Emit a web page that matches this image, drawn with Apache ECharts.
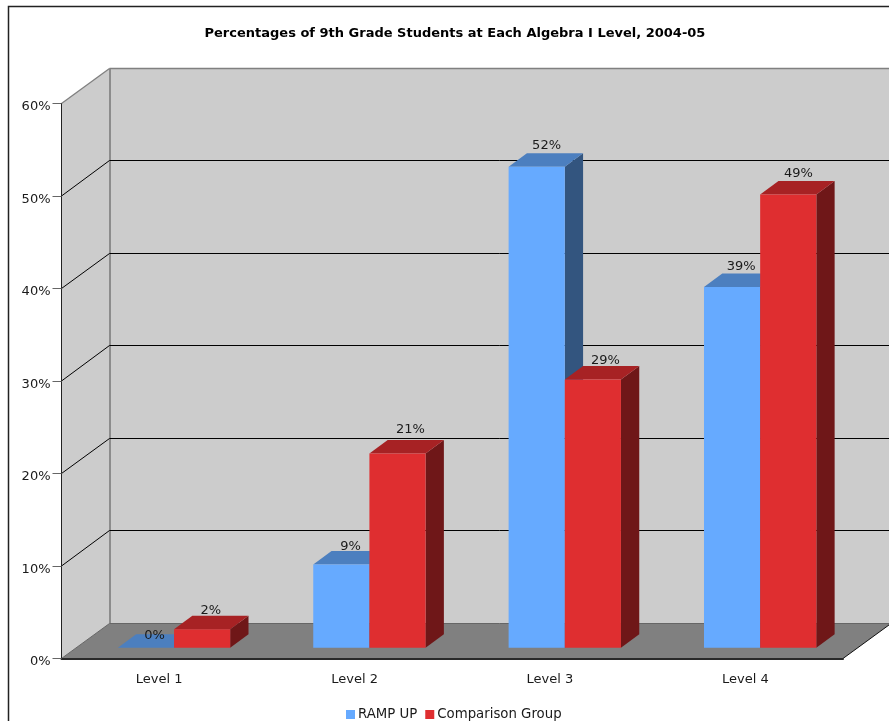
<!DOCTYPE html>
<html>
<head>
<meta charset="utf-8">
<style>
  html, body { margin: 0; padding: 0; background: #fff; }
  #chart { width: 889px; height: 721px; }
</style>
<script src="https://cdn.jsdelivr.net/npm/echarts@6/dist/echarts.min.js"></script>
</head>
<body>
<div id="chart"></div>
<script>
// Chart values
const categories = ['Level 1', 'Level 2', 'Level 3', 'Level 4'];
const rampUp = [0, 9, 52, 39];
const comparisonGroup = [2, 21, 29, 49];
const tickValues = [0, 10, 20, 30, 40, 50, 60];

// Caption placement per bar: [shift right, gap above the bar's back edge]
const rampUpCaptionPlacement = [[-0.5, -1], [0, 4.5], [0.7, 8], [0, 7]];
const comparisonCaptionPlacement = [[-0.5, 5.5], [3.7, 10], [3.3, 5], [1, 7]];

// Pseudo-3D projection: how far the back wall and each bar extrude up and to the right
const WALL_DX = 48, WALL_DY = 35;
const BAR_DX = 18.3, BAR_DY = 13.6;
const BAR_SHIFT_X = (WALL_DX - BAR_DX) / 2;
const BAR_SHIFT_Y = (WALL_DY - BAR_DY) / 2;
const BAR_FRACTION = 0.2875;
const FONT = '"DejaVu Sans", Verdana, sans-serif';
const TEXT = '#1a1a1a';

const poly = (points, fill, z2) => ({
  type: 'polygon', shape: { points }, style: { fill }, z2: z2 || 0
});
const seg = (x1, y1, x2, y2, stroke, lineWidth, z2) => ({
  type: 'line', shape: { x1, y1, x2, y2 },
  style: { stroke, lineWidth: lineWidth || 1 }, z2: z2 || 0
});
// Keeps thin horizontal rules on a single pixel row
const crisp = y => Math.ceil(y) - 0.5;

// Side wall, back wall, floor and the gridlines running across them
function renderRoom(params, api) {
  const cs = params.coordSys;
  const value = api.value(0);
  const y = api.coord([0, value])[1];
  const left = cs.x, right = cs.x + cs.width;
  const backLeft = left + WALL_DX, backRight = right + WALL_DX;
  const children = [];
  if (params.dataIndex === 0) {
    const top = cs.y, bottom = cs.y + cs.height;
    children.push(
      poly([[left, top], [backLeft, top - WALL_DY], [backRight, top - WALL_DY],
            [backRight, bottom - WALL_DY], [backLeft, bottom - WALL_DY], [left, bottom]], '#cccccc', 0),
      poly([[left, bottom], [backLeft, bottom - WALL_DY], [backRight, bottom - WALL_DY], [right, bottom]], '#808080', 1),
      seg(backLeft + 0.5, top - WALL_DY, backLeft + 0.5, bottom - WALL_DY, '#8c8c8c', 2, 2),
      seg(right, bottom, backRight, bottom - WALL_DY, '#111', 1, 3)
    );
  }
  const isFloor = value === tickValues[0];
  const isTop = value === tickValues[tickValues.length - 1];
  const color = isFloor ? '#666' : isTop ? '#808080' : '#000';
  const backY = crisp(y - WALL_DY);
  children.push(
    seg(left, y, backLeft, backY, color, isTop ? 1.3 : 1, 3),
    seg(backLeft, backY, backRight, backY, color, isTop ? 1.3 : 1, 3)
  );
  return { type: 'group', children };
}

// One extruded bar: front face, lighter top and shaded side
function makeBarRenderer(slot, front, topFace, sideFace) {
  return function (params, api) {
    const base = api.coord([api.value(0), 0]);
    const head = api.coord([api.value(0), api.value(1)]);
    const w = api.size([1, 0])[0] * BAR_FRACTION;
    const x0 = base[0] + BAR_SHIFT_X + slot * w;
    const x1 = x0 + w;
    const yb = base[1] - BAR_SHIFT_Y;
    const yt = head[1] - BAR_SHIFT_Y;
    return {
      type: 'group',
      children: [
        poly([[x1, yt], [x1 + BAR_DX, yt - BAR_DY], [x1 + BAR_DX, yb - BAR_DY], [x1, yb]], sideFace, 1),
        poly([[x0, yt], [x0 + BAR_DX, yt - BAR_DY], [x1 + BAR_DX, yt - BAR_DY], [x1, yt]], topFace, 2),
        poly([[x0, yt], [x1, yt], [x1, yb], [x0, yb]], front, 3)
      ]
    };
  };
}

// Value captions sit above the back edge of each bar's top face
function makeLabelRenderer(slot, placement) {
  return function (params, api) {
    const base = api.coord([api.value(0), 0]);
    const head = api.coord([api.value(0), api.value(1)]);
    const w = api.size([1, 0])[0] * BAR_FRACTION;
    const place = placement[params.dataIndex];
    const cx = base[0] + BAR_SHIFT_X + slot * w + w / 2 + BAR_DX / 2 + place[0];
    const backTop = head[1] - BAR_SHIFT_Y - BAR_DY;
    return {
      type: 'text',
      style: {
        x: cx, y: backTop - place[1],
        text: api.value(1) + '%', fill: TEXT, font: '13px ' + FONT,
        align: 'center', verticalAlign: 'middle'
      },
      z2: 50
    };
  };
}

const pairs = values => values.map((v, i) => [i, v]);

const option = {
  animation: false,
  backgroundColor: '#fff',
  title: {
    text: 'Percentages of 9th Grade Students at Each Algebra I Level, 2004-05',
    left: 204.5, top: 27, padding: 0,
    textStyle: { fontFamily: FONT, fontSize: 13, fontWeight: 'bold', color: '#000' }
  },
  graphic: [{
    type: 'rect', silent: true, z: -1,
    shape: { x: 8.5, y: 6.5, width: 1000, height: 1000 },
    style: { fill: 'none', stroke: '#222', lineWidth: 1.5 }
  }],
  legend: {
    data: ['RAMP UP', 'Comparison Group'],
    left: 346, top: 708, itemWidth: 9, itemHeight: 9, itemGap: 8, padding: 0,
    icon: 'rect', selectedMode: false,
    textStyle: { fontFamily: FONT, fontSize: 13.3, color: TEXT, padding: [0, 0, 0, -2] }
  },
  grid: { left: 61.5, right: 46, top: 103.5, bottom: 62.5, containLabel: false },
  xAxis: {
    type: 'category', data: categories,
    axisLine: { lineStyle: { color: '#2a2a2a', width: 2 } },
    axisTick: { length: 9, lineStyle: { color: '#111', width: 1 } },
    axisLabel: { margin: 15, fontFamily: FONT, fontSize: 13, color: TEXT },
    splitLine: { show: false }, z: 10
  },
  yAxis: {
    type: 'value', min: 0, max: 60, interval: 10,
    axisLine: { show: true, lineStyle: { color: '#222', width: 1 } },
    axisTick: { show: true, length: 9, lineStyle: { color: '#666', width: 1 } },
    axisLabel: {
      margin: 11, fontFamily: FONT, fontSize: 13, color: TEXT,
      formatter: '{value}%', verticalAlign: 'top', lineHeight: 7
    },
    splitLine: { show: false }, z: 10
  },
  series: [
    {
      type: 'custom', name: 'room', silent: true, z: 1, clip: false,
      renderItem: renderRoom, encode: { y: 0 },
      data: tickValues.map(v => [v])
    },
    {
      type: 'custom', name: 'RAMP UP', z: 2, clip: false,
      itemStyle: { color: '#66aaff' },
      renderItem: makeBarRenderer(-1, '#66aaff', '#4c7fbf', '#33557f'),
      encode: { x: 0, y: 1 }, data: pairs(rampUp)
    },
    {
      type: 'custom', name: 'Comparison Group', z: 3, clip: false,
      itemStyle: { color: '#df2e30' },
      renderItem: makeBarRenderer(0, '#df2e30', '#a72224', '#6f1718'),
      encode: { x: 0, y: 1 }, data: pairs(comparisonGroup)
    },
    {
      type: 'custom', name: 'rampUpLabels', silent: true, z: 20, clip: false,
      renderItem: makeLabelRenderer(-1, rampUpCaptionPlacement),
      encode: { x: 0, y: 1 }, data: pairs(rampUp)
    },
    {
      type: 'custom', name: 'comparisonLabels', silent: true, z: 20, clip: false,
      renderItem: makeLabelRenderer(0, comparisonCaptionPlacement),
      encode: { x: 0, y: 1 }, data: pairs(comparisonGroup)
    }
  ]
};

echarts.init(document.getElementById('chart'), null, { renderer: 'canvas' }).setOption(option);
</script>
</body>
</html>
